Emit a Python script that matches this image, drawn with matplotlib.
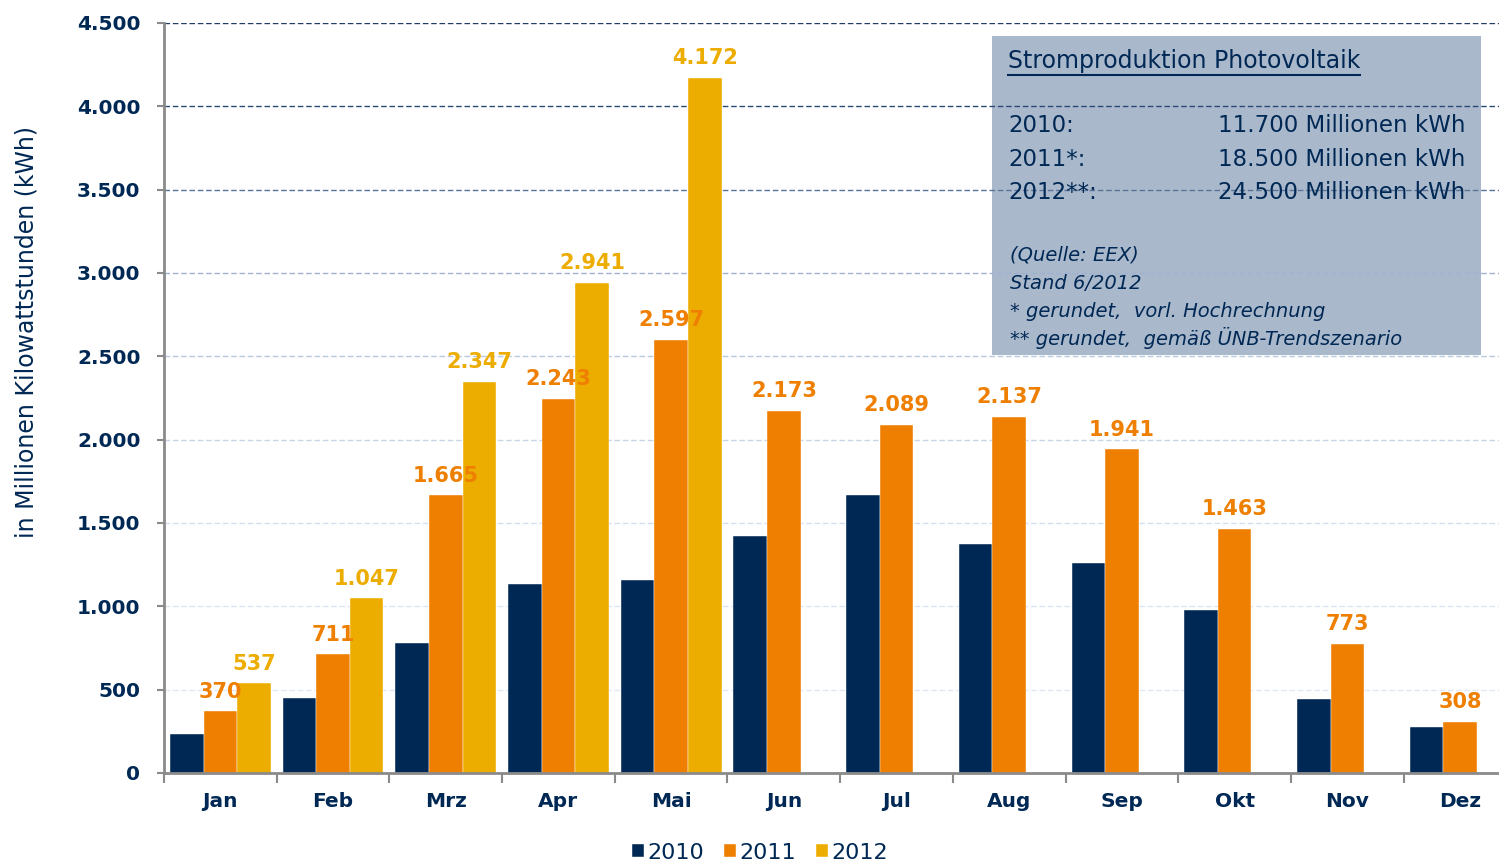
import numpy as np
import matplotlib
matplotlib.use("Agg")
import matplotlib.pyplot as plt
from matplotlib.patches import Rectangle
from matplotlib.lines import Line2D
from matplotlib.ticker import FuncFormatter, FixedLocator

# Monthly PV production (million kWh)
months = ["Jan", "Feb", "Mrz", "Apr", "Mai", "Jun", "Jul", "Aug", "Sep", "Okt", "Nov", "Dez"]
years = ["2010", "2011", "2012"]
v2010 = [234, 450, 780, 1134, 1158, 1422, 1668, 1374, 1260, 978, 444, 276]
v2011 = [370, 711, 1665, 2243, 2597, 2173, 2089, 2137, 1941, 1463, 773, 308]
v2012 = [537, 1047, 2347, 2941, 4172, np.nan, np.nan, np.nan, np.nan, np.nan, np.nan, np.nan]

colors = ["#002855", "#ee7f00", "#edac00"]
navy = "#002855"

fig = plt.figure(figsize=(14.99, 8.63), dpi=100)
ax = fig.add_axes([0.1094, 0.1043, 0.9022, 0.8691])

x = np.arange(len(months))
w = 0.298
series = [v2010, v2011, v2012]
bars = []
for i, vals in enumerate(series):
    b = ax.bar(x + (i - 1) * w, vals, w, color=colors[i], zorder=2, label=years[i],
               edgecolor="white", linewidth=0.3)
    bars.append(b)

# value labels for 2011 and 2012
for i in (1, 2):
    for xi, v in zip(x, series[i]):
        if np.isnan(v):
            continue
        ax.annotate(f"{v:,}".replace(",", "."), (xi + (i - 1) * w, v),
                    xytext=(0, 7), textcoords="offset points", ha="center", va="bottom",
                    fontsize=15, fontweight="bold", color=colors[i], zorder=3)

ax.set_xlim(-0.5, 11.5)
ax.set_ylim(0, 4500)
ax.set_yticks(np.arange(0, 4501, 500))
ax.yaxis.set_major_formatter(FuncFormatter(lambda v, p: f"{int(v):,}".replace(",", ".")))
ax.set_xticks(x)
ax.set_xticklabels(months)
ax.xaxis.set_minor_locator(FixedLocator(np.arange(-0.5, 11.6, 1)))
ax.tick_params(axis="x", which="major", length=0, pad=14)
ax.tick_params(axis="x", which="minor", length=7, width=1.5, color="#8a8a8a")
ax.tick_params(axis="y", length=5, width=1.5, color="#8a8a8a", pad=12)
for lab in ax.get_xticklabels() + ax.get_yticklabels():
    lab.set_fontsize(14.5)
    lab.set_fontweight("bold")
    lab.set_color(navy)

for s in ("top", "right"):
    ax.spines[s].set_visible(False)
for s in ("left", "bottom"):
    ax.spines[s].set_color("#8a8a8a")
    ax.spines[s].set_linewidth(2)
    ax.spines[s].set_zorder(4)

# dashed grid fading from dark at top to light at bottom
ax.set_axisbelow(True)
ax.yaxis.grid(True, linestyle=(0, (4, 2)), linewidth=1)
grid_cols = ["#ffffff", "#dfe8f5", "#dce5f3", "#d3def0", "#c8d5e8", "#b8c7e0",
             "#9fb2d0", "#5a7297", "#2a4a78", "#1f3b66"]
for gl, c in zip(ax.get_ygridlines(), grid_cols):
    gl.set_color(c)

ax.set_ylabel("in Millionen Kilowattstunden (kWh)", fontsize=17, color=navy)
ax.yaxis.set_label_coords(-0.093, 0.588)

# info box
box = Rectangle((0.6618, 0.5886), 0.3262, 0.3696, transform=fig.transFigure,
                facecolor="#aab8cb", edgecolor="none", zorder=0.3, clip_on=False)
ax.add_patch(box)
title = fig.text(0.6725, 0.929, "Stromproduktion Photovoltaik", fontsize=17, color=navy,
                 ha="left", va="center", fontweight="medium")
info_years = ["2010:", "2011*:", "2012**:"]
info_vals = ["11.700 Millionen kWh", "18.500 Millionen kWh", "24.500 Millionen kWh"]
for k, (yl, vl) in enumerate(zip(info_years, info_vals)):
    yy = 0.854 - k * 0.0385
    fig.text(0.6725, yy, yl, fontsize=16.5, color=navy, ha="left", va="center")
    fig.text(0.9775, yy, vl, fontsize=16.5, color=navy, ha="right", va="center")
notes = ["(Quelle: EEX)", "Stand 6/2012", "* gerundet,  vorl. Hochrechnung",
         "** gerundet,  gemäß ÜNB-Trendszenario"]
note_y = [0.705, 0.672, 0.639, 0.608]
for t, yy in zip(notes, note_y):
    fig.text(0.6735, yy, t, fontsize=14, color=navy, style="italic", ha="left", va="center")

fig.canvas.draw()
bb = title.get_window_extent().transformed(fig.transFigure.inverted())
fig.add_artist(Line2D([bb.x0, bb.x1], [bb.y0 - 0.002, bb.y0 - 0.002],
                      transform=fig.transFigure, color=navy, linewidth=1.5))

fig.legend(handles=bars, labels=years, loc="center", bbox_to_anchor=(0.507, 0.012),
           ncol=3, frameon=False, fontsize=16, handlelength=0.55, handleheight=0.55,
           handletextpad=0.15, columnspacing=0.9, labelcolor=navy)

fig.savefig("out.png", dpi=100)
